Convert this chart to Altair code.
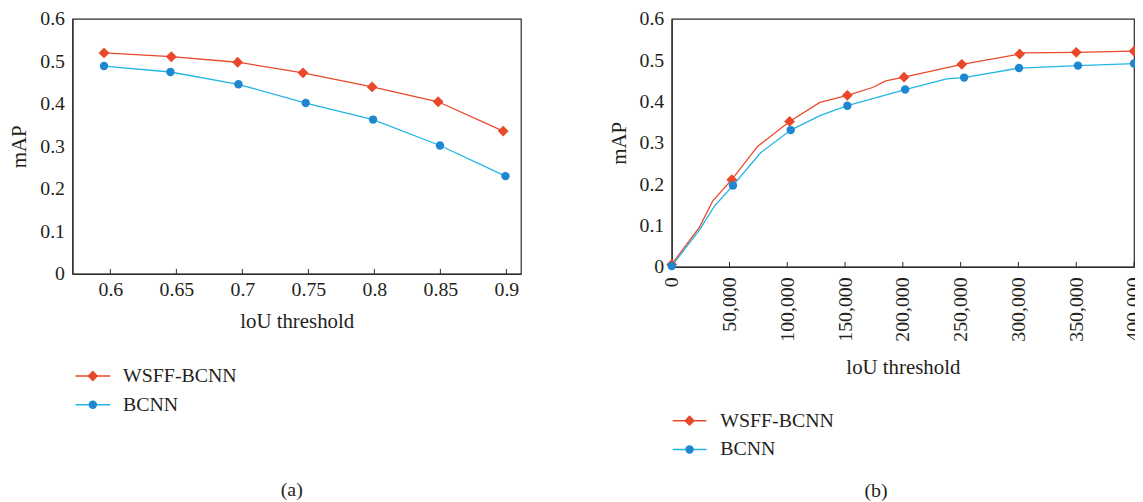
import altair as alt
import pandas as pd

SERIES = ["WSFF-BCNN", "BCNN"]
RED = "#E9482A"
BLUE_MARK = "#1E87CF"
BLUE_LINE = "#23B5E6"
AX = "#2b2b2b"
TXT = "#231F20"
FONT = "Liberation Serif"

# ---- panel (a): IoU threshold 0.6 .. 0.9
a_x_wsff = [0.5952, 0.6462, 0.6964, 0.7459, 0.7983, 0.8483, 0.8976]
a_y_wsff = [0.520, 0.511, 0.498, 0.473, 0.440, 0.405, 0.336]
a_x_bcnn = [0.5952, 0.6455, 0.6970, 0.7480, 0.7990, 0.8497, 0.8993]
a_y_bcnn = [0.489, 0.475, 0.446, 0.402, 0.363, 0.302, 0.230]
a_ticks = [0.6, 0.65, 0.7, 0.75, 0.8, 0.85, 0.9]

# ---- panel (b): markers
b_x_wsff = [0, 52000, 102000, 152000, 201000, 251000, 301000, 350000, 400000]
b_y_wsff = [0.006, 0.211, 0.352, 0.415, 0.459, 0.490, 0.515, 0.519, 0.522]
b_x_bcnn = [0, 53000, 103000, 152000, 202000, 253000, 300500, 351500, 400000]
b_y_bcnn = [0.002, 0.197, 0.331, 0.390, 0.429, 0.458, 0.481, 0.487, 0.492]
# ---- panel (b): line vertices
b_lx_wsff = [0, 24200, 35600, 52000, 74100, 102000, 128200, 152000, 173800,
             185200, 201000, 251000, 301000, 304900, 350000, 400000]
b_ly_wsff = [0.006, 0.097, 0.160, 0.211, 0.291, 0.352, 0.398, 0.415, 0.434,
             0.450, 0.459, 0.490, 0.515, 0.518, 0.519, 0.522]
b_lx_bcnn = [0, 24200, 37000, 53000, 76900, 103000, 128200, 152000, 202000,
             237900, 253000, 300500, 351500, 400000]
b_ly_bcnn = [0.002, 0.090, 0.147, 0.197, 0.276, 0.331, 0.366, 0.390, 0.429,
             0.455, 0.458, 0.481, 0.487, 0.492]
b_ticks = [0, 50000, 100000, 150000, 200000, 250000, 300000, 350000, 400000]

y_ticks = [0, 0.1, 0.2, 0.3, 0.4, 0.5, 0.6]


def frame(xs_w, ys_w, xs_b, ys_b):
    return pd.DataFrame({
        "x": list(xs_w) + list(xs_b),
        "y": list(ys_w) + list(ys_b),
        "series": [SERIES[0]] * len(xs_w) + [SERIES[1]] * len(xs_b),
    })


line_scale = alt.Scale(domain=SERIES, range=[RED, BLUE_LINE])
fill_scale = alt.Scale(domain=SERIES, range=[RED, BLUE_MARK])
shape_scale = alt.Scale(domain=SERIES, range=["diamond", "circle"])
size_scale = alt.Scale(domain=SERIES, range=[120, 72])


def panel(line_df, mark_df, ticks, domain, w, h, fmt, angle, lpad, tpad):
    x_axis = alt.Axis(values=ticks, format=fmt, title="loU threshold", ticks=False,
                      tickSize=0, grid=False, labelAngle=angle, labelPadding=lpad,
                      titlePadding=tpad, labelFlush=False, labelOverlap=False)
    x_enc = alt.X("x:Q", scale=alt.Scale(domain=domain, nice=False, zero=False), axis=x_axis)
    y_enc = alt.Y("y:Q", scale=alt.Scale(domain=[0, 0.6], nice=False),
                  axis=alt.Axis(values=y_ticks, format="~g", title="mAP", ticks=False,
                                tickSize=0, grid=False, labelPadding=8, titlePadding=10,
                                labelFlush=False))
    lines = alt.Chart(line_df).mark_line(strokeWidth=1.3).encode(
        x=x_enc, y=y_enc,
        color=alt.Color("series:N", scale=line_scale, legend=None),
        detail="series:N")
    pts = alt.Chart(mark_df).mark_point(filled=True, opacity=1, strokeWidth=0).encode(
        x=x_enc, y=y_enc,
        fill=alt.Fill("series:N", scale=fill_scale, legend=None),
        shape=alt.Shape("series:N", scale=shape_scale, legend=None),
        size=alt.Size("series:N", scale=size_scale, legend=None))
    tk = alt.Chart(pd.DataFrame({"x": ticks})).mark_rule(color=AX, strokeWidth=1).encode(
        x=x_enc, y=alt.value(h - 5), y2=alt.value(h))
    return alt.layer(tk, lines, pts).properties(width=w, height=h)


def legend_chart(x0, x1, xt, w, h):
    df = pd.DataFrame({"series": SERIES})
    ly = alt.Y("series:N", scale=alt.Scale(domain=SERIES, type="point", padding=0), axis=None)
    ln = alt.Chart(df).mark_rule(strokeWidth=1.5).encode(
        x=alt.value(x0), x2=alt.value(x1), y=ly,
        color=alt.Color("series:N", scale=line_scale, legend=None))
    pt = alt.Chart(df).mark_point(filled=True, opacity=1, strokeWidth=0).encode(
        x=alt.value((x0 + x1) / 2), y=ly,
        fill=alt.Fill("series:N", scale=fill_scale, legend=None),
        shape=alt.Shape("series:N", scale=shape_scale, legend=None),
        size=alt.Size("series:N", scale=size_scale, legend=None))
    tx = alt.Chart(df).mark_text(align="left", baseline="middle", fontSize=20,
                                 font=FONT, color=TXT).encode(
        x=alt.value(xt), y=ly, text="series:N")
    return alt.layer(ln, pt, tx).properties(
        width=w, height=h, view=alt.ViewBackground(stroke="transparent"))


a_line = frame(a_x_wsff, a_y_wsff, a_x_bcnn, a_y_bcnn)
b_line = frame(b_lx_wsff, b_ly_wsff, b_lx_bcnn, b_ly_bcnn)
b_mark = frame(b_x_wsff, b_y_wsff, b_x_bcnn, b_y_bcnn)

pa = panel(a_line, a_line, a_ticks, [0.5713, 0.911], 452, 257, "~g", 0, 6, 11)
pb = panel(b_line, b_mark, b_ticks, [0, 400000], 466, 250, ",d", 270, 10, 15)

la = legend_chart(3, 38, 51, 300, 29)
lb = legend_chart(1, 35, 49, 300, 29)

cap = dict(orient="bottom", anchor="middle", fontSize=20, font=FONT,
           fontWeight="normal", color=TXT)
left = alt.vconcat(pa, la, spacing=33).properties(
    title=alt.TitleParams(text="(a)", dx=27, offset=65, **cap))
right = alt.vconcat(pb, lb, spacing=32).properties(
    title=alt.TitleParams(text="(b)", dx=0, offset=21, **cap))

chart = alt.hconcat(left, right, spacing=86).properties(
    padding={"left": 0, "top": -2, "right": -10, "bottom": 0}
).configure(font=FONT).configure_axis(
    labelFont=FONT, titleFont=FONT, labelFontSize=20, titleFontSize=21,
    labelColor=TXT, titleColor=TXT, titleFontWeight="normal",
    domainColor=AX, domainWidth=1.2
).configure_view(stroke=AX, strokeWidth=1.2)

chart.save("out.html", embed_options={"renderer": "svg", "actions": False})
